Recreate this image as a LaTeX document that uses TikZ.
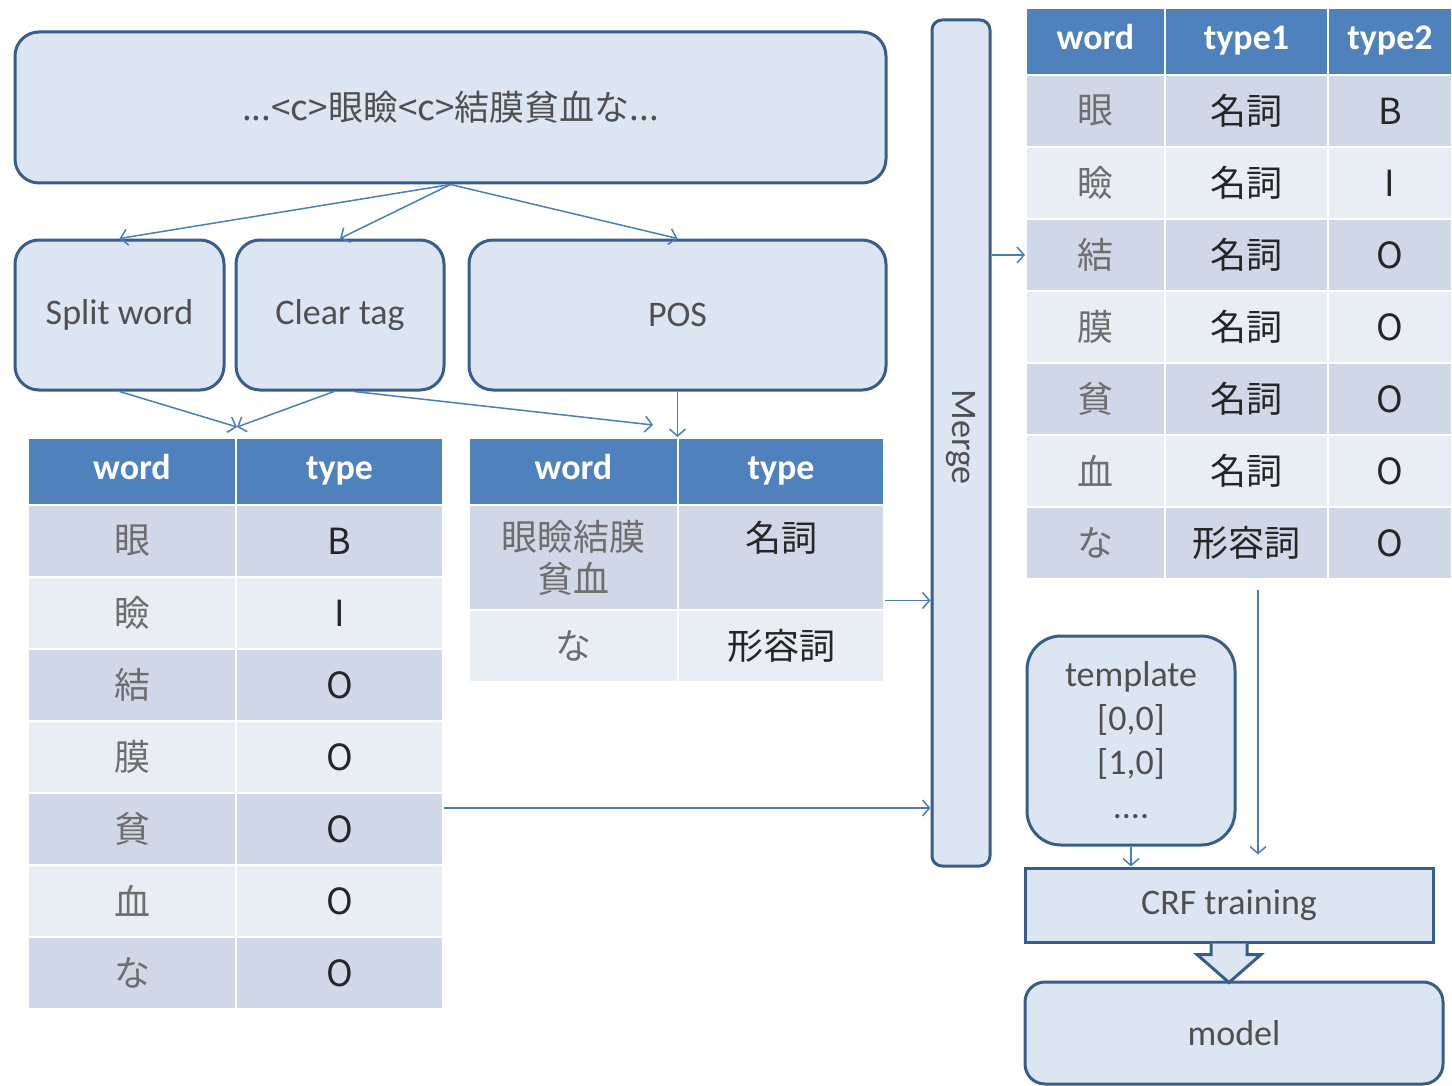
\documentclass[tikz,border=0pt]{standalone}
\usepackage{fontspec}
\setmainfont{Carlito}
\newfontfamily\jp{Noto Sans CJK JP}
\usetikzlibrary{arrows.meta}

\begin{document}
\begin{tikzpicture}[x=0.5pt,y=-0.5pt]
            \definecolor{box_fill}{RGB}{220,230,242}
            \definecolor{box_line}{RGB}{56,93,138}
            \definecolor{edge_color}{RGB}{74,126,187}
            \definecolor{head_color}{RGB}{79,129,189}
            \definecolor{row_dark}{RGB}{208,216,232}
            \definecolor{row_light}{RGB}{233,237,244}
            \definecolor{text_gray}{RGB}{80,80,80}
            \definecolor{word_gray}{RGB}{110,110,110}
            \tikzstyle{box} = [draw=box_line, line width=1.5pt, fill=box_fill, rounded corners=12pt, text=text_gray, font=\fontsize{18}{22}\selectfont, align=center, inner sep=0pt]
            \tikzstyle{head} = [draw=white, line width=1pt, fill=head_color, text=white, font=\fontsize{18}{22}\selectfont\bfseries, inner sep=0pt, minimum height=33.5pt, text height=12pt, text depth=4pt]
            \tikzstyle{cell} = [draw=white, line width=1pt, inner sep=0pt, minimum height=36pt, align=center, font=\jp\fontsize{18}{21}\selectfont, text=black!85]
            \tikzstyle{arr} = [draw=edge_color, line width=0.75pt, -{Straight Barb[length=3.5pt,width=8pt]}]
            \useasboundingbox (0,0) rectangle (1452,1086);
            % boxes
            \node[box, minimum width=435.5pt, minimum height=75.5pt, font=\jp\fontsize{17.5}{20}\selectfont] (top) at (450.5,107.5) {...<c>眼瞼<c>結膜貧血な...};
            \node[box, minimum width=104.5pt, minimum height=75pt] (split) at (119.5,315) {Split word};
            \node[box, minimum width=104pt, minimum height=75pt] (clear) at (340,315) {Clear tag};
            \node[box, minimum width=208.5pt, minimum height=75pt] (pos) at (677.5,315) {POS};
            \node[box, rounded corners=5pt, minimum width=29pt, minimum height=423pt] (merge) at (961,443) {};
            \node[text=text_gray, font=\fontsize{18}{22}\selectfont, rotate=-90] (merge-text) at (961,437) {Merge};
            \node[box, rounded corners=17pt, minimum width=104pt, minimum height=104.5pt] (template) at (1131,740.5) {template\\{[0,0]}\\{[1,0]}\\....};
            \node[box, rounded corners=0pt, minimum width=204pt, minimum height=37pt] (crf) at (1229,905) {CRF training};
            \node[box, rounded corners=10pt, minimum width=209pt, minimum height=51pt] (model) at (1234,1033) {model};
            % left table
            \node[head, minimum width=104pt] (l-h1) at (132,471.5) {word};
            \node[head, minimum width=103.5pt] (l-h2) at (339.5,471.5) {type};
            \foreach \w/\t [count=\i] in {眼/B,瞼/I,結/O,膜/O,貧/O,血/O,な/O} {
                \ifodd\i\relax \def\rowcol{row_dark}\else \def\rowcol{row_light}\fi
                \node[cell, fill=\rowcol, minimum width=104pt, text=word_gray] (l-r\i-1) at (132,{469+72*\i}) {\w};
                \node[cell, fill=\rowcol, minimum width=103.5pt] (l-r\i-2) at (339.5,{469+72*\i}) {\t};
            }
            % middle table
            \node[head, minimum width=104.5pt] (m-h1) at (573.5,471.5) {word};
            \node[head, minimum width=103pt] (m-h2) at (781,471.5) {type};
            \node[cell, fill=row_dark, minimum width=104.5pt, minimum height=52.5pt, text=word_gray] (m-r1-1) at (573.5,557.5) {眼瞼結膜\\貧血};
            \node[cell, fill=row_dark, minimum width=103pt, minimum height=52.5pt] (m-r1-2) at (781,557.5) {名詞\\\mbox{}};
            \node[cell, fill=row_light, minimum width=104.5pt, text=word_gray] (m-r2-1) at (573.5,646) {な};
            \node[cell, fill=row_light, minimum width=103pt] (m-r2-2) at (781,646) {形容詞};
            % right table
            \node[head, minimum width=69.5pt] (r-h1) at (1095.5,41.5) {word};
            \node[head, minimum width=81.5pt] (r-h2) at (1246.5,41.5) {type1};
            \node[head, minimum width=62pt] (r-h3) at (1390,41.5) {type2};
            \foreach \w/\a/\b [count=\i] in {眼/名詞/B,瞼/名詞/I,結/名詞/O,膜/名詞/O,貧/名詞/O,血/名詞/O,な/形容詞/O} {
                \ifodd\i\relax \def\rowcol{row_dark}\else \def\rowcol{row_light}\fi
                \node[cell, fill=\rowcol, minimum width=69.5pt, text=word_gray] (r-r\i-1) at (1095.5,{39+72*\i}) {\w};
                \node[cell, fill=\rowcol, minimum width=81.5pt] (r-r\i-2) at (1246.5,{39+72*\i}) {\a};
                \node[cell, fill=\rowcol, minimum width=62pt] (r-r\i-3) at (1390,{39+72*\i}) {\b};
            }
            % arrows
            \coordinate (l-in) at ([yshift=5pt]l-h1.north east);
            \coordinate (m-in) at ([xshift=-13pt,yshift=6pt]m-h1.north east);
            \coordinate (m-out) at ([yshift=-21.5pt]m-r1-2.east);
            \coordinate (l-out) at ([yshift=10.5pt]l-r5-2.east);
            \coordinate (r-out) at ([xshift=5.75pt,yshift=-5pt]r-r7-2.south);
            \draw[arr] (top.south) -- (split.north);
            \draw[arr] (top.south) -- (clear.north);
            \draw[arr] (top.south) -- (pos.north);
            \draw[arr] (split.south) -- (l-in);
            \draw[arr] ([xshift=-3pt]clear.south) -- (l-in);
            \draw[arr] ([xshift=7pt]clear.south) -- (m-in);
            \draw[arr] (pos.south) -- (pos.south |- m-h1.north);
            \draw[arr] (m-out) -- (m-out -| merge.west);
            \draw[arr] (l-out) -- (l-out -| merge.west);
            \draw[arr] (merge.east |- r-r3-1.west) -- (r-r3-1.west);
            \draw[arr, shorten >=6pt] (r-out) -- (r-out |- crf.north);
            \draw[arr] (template.south) -- (template.south |- crf.north);
            % block arrow crf -> model
            \draw[draw=box_line, line width=1.5pt, fill=box_fill] ([xshift=-9pt]crf.south) -- ++(0,11) -- ++(-14,0) -- ++(32,28) -- ++(32,-28) -- ++(-14,0) -- ++(0,-11);
        \end{tikzpicture}
\end{document}
